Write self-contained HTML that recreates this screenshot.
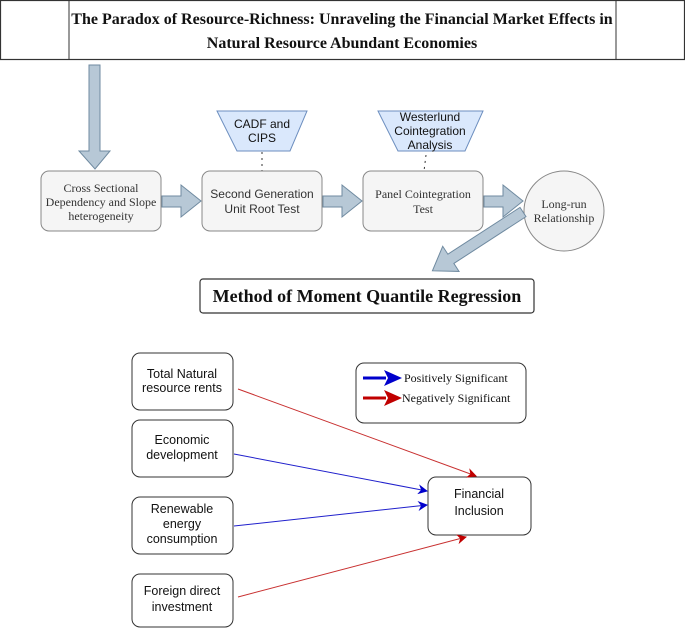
<!DOCTYPE html>
<html><head><meta charset="utf-8"><style>
html,body{margin:0;padding:0;background:#fff;}
svg{display:block;}
.serif{font-family:"Liberation Serif",serif;}
.sans{font-family:"Liberation Sans",sans-serif;}
</style></head><body>
<svg width="685" height="629" viewBox="0 0 685 629" xmlns="http://www.w3.org/2000/svg">
<defs>
<marker id="mr" markerWidth="10" markerHeight="10" refX="9" refY="5" orient="auto" markerUnits="userSpaceOnUse"><path d="M0,0 L10,5 L0,10 L3,5 Z" fill="#c00000"/></marker>
<marker id="mb" markerWidth="10" markerHeight="10" refX="9" refY="5" orient="auto" markerUnits="userSpaceOnUse"><path d="M0,0 L10,5 L0,10 L3,5 Z" fill="#0000cc"/></marker>
</defs>
<rect x="0.5" y="0.5" width="684" height="59" fill="#fff" stroke="#333" stroke-width="1.2"/>
<line x1="69" y1="0" x2="69" y2="60" stroke="#333"/>
<line x1="616" y1="0" x2="616" y2="60" stroke="#333"/>
<text class="serif" x="342" y="24" font-size="16" font-weight="bold" text-anchor="middle" fill="#111">The Paradox of Resource-Richness: Unraveling the Financial Market Effects in</text>
<text class="serif" x="342" y="48" font-size="16" font-weight="bold" text-anchor="middle" fill="#111">Natural Resource Abundant Economies</text>
<polygon points="89,65 100,65 100,151 110,151 95,169 79,151 89,151" fill="#b7c8d6" stroke="#6f8aa0" stroke-width="1"/>
<polygon points="217,111 307,111 290,151 237,151" fill="#dae8fc" stroke="#6c8ebf"/>
<text class="sans" x="262" y="128" font-size="12" text-anchor="middle" fill="#111">CADF and</text>
<text class="sans" x="262" y="142" font-size="12" text-anchor="middle" fill="#111">CIPS</text>
<line x1="262" y1="152" x2="262" y2="171" stroke="#333" stroke-dasharray="2,4"/>
<polygon points="378,111 483,111 465,151 398,151" fill="#dae8fc" stroke="#6c8ebf"/>
<text class="sans" x="430" y="121" font-size="12" text-anchor="middle" fill="#111">Westerlund</text>
<text class="sans" x="430" y="135" font-size="12" text-anchor="middle" fill="#111">Cointegration</text>
<text class="sans" x="430" y="149" font-size="12" text-anchor="middle" fill="#111">Analysis</text>
<line x1="426" y1="155" x2="424" y2="171" stroke="#333" stroke-dasharray="2,4"/>
<rect x="41" y="171" width="120" height="60" rx="8" fill="#f5f5f5" stroke="#888"/>
<text class="serif" x="101" y="192" font-size="12" text-anchor="middle" fill="#333">Cross Sectional</text>
<text class="serif" x="101" y="206" font-size="12" text-anchor="middle" fill="#333">Dependency and Slope</text>
<text class="serif" x="101" y="220" font-size="12" text-anchor="middle" fill="#333">heterogeneity</text>
<rect x="202" y="171" width="120" height="60" rx="8" fill="#f5f5f5" stroke="#888"/>
<text class="sans" x="262" y="198" font-size="12" text-anchor="middle" fill="#333">Second Generation</text>
<text class="sans" x="262" y="213" font-size="12" text-anchor="middle" fill="#333">Unit Root Test</text>
<rect x="363" y="171" width="120" height="60" rx="8" fill="#f5f5f5" stroke="#888"/>
<text class="serif" x="423" y="198" font-size="12" text-anchor="middle" fill="#333">Panel Cointegration</text>
<text class="serif" x="423" y="213" font-size="12" text-anchor="middle" fill="#333">Test</text>
<ellipse cx="564" cy="211" rx="40" ry="40" fill="#f5f5f5" stroke="#888"/>
<text class="serif" x="564" y="208" font-size="12" text-anchor="middle" fill="#333">Long-run</text>
<text class="serif" x="564" y="222" font-size="12" text-anchor="middle" fill="#333">Relationship</text>
<polygon points="162,196 181,196 181,185 201,201 181,217 181,207 162,207" fill="#b7c8d6" stroke="#6f8aa0"/>
<polygon points="323,196 342,196 342,185 362,201 342,217 342,207 323,207" fill="#b7c8d6" stroke="#6f8aa0"/>
<polygon points="484,196 503,196 503,185 523,201 503,217 503,207 484,207" fill="#b7c8d6" stroke="#6f8aa0"/>
<g transform="translate(523,212) rotate(147)">
<polygon points="0,-5.5 86,-5.5 86,-15 108,0 86,15 86,5.5 0,5.5" fill="#b7c8d6" stroke="#6f8aa0"/>
</g>
<rect x="200" y="279" width="334" height="34" rx="3" fill="#fff" stroke="#333" stroke-width="1.2"/>
<text class="serif" x="367" y="302" font-size="18" font-weight="bold" text-anchor="middle" fill="#111">Method of Moment Quantile Regression</text>
<g class="sans" font-size="12.5" fill="#111" text-anchor="middle">
<rect x="132" y="353" width="101" height="57" rx="8" fill="#fff" stroke="#333"/>
<text x="182" y="378">Total Natural</text>
<text x="182" y="392">resource rents</text>
<rect x="132" y="420" width="101" height="57" rx="8" fill="#fff" stroke="#333"/>
<text x="182" y="444">Economic</text>
<text x="182" y="459">development</text>
<rect x="132" y="497" width="101" height="57" rx="8" fill="#fff" stroke="#333"/>
<text x="182" y="513">Renewable</text>
<text x="182" y="528">energy</text>
<text x="182" y="543">consumption</text>
<rect x="132" y="574" width="101" height="53" rx="8" fill="#fff" stroke="#333"/>
<text x="182" y="595">Foreign direct</text>
<text x="182" y="611">investment</text>
<rect x="428" y="477" width="103" height="58" rx="8" fill="#fff" stroke="#333"/>
<text x="479" y="498">Financial</text>
<text x="479" y="515">Inclusion</text>
</g>
<line x1="238" y1="389" x2="476" y2="476" stroke="#c83030" stroke-width="1" marker-end="url(#mr)"/>
<line x1="234" y1="454" x2="427" y2="491" stroke="#2020cc" stroke-width="1" marker-end="url(#mb)"/>
<line x1="234" y1="526" x2="427" y2="505" stroke="#2020cc" stroke-width="1" marker-end="url(#mb)"/>
<line x1="238" y1="597" x2="466" y2="537" stroke="#c83030" stroke-width="1" marker-end="url(#mr)"/>
<rect x="356" y="363" width="170" height="60" rx="8" fill="#fff" stroke="#333"/>
<line x1="363" y1="378" x2="386" y2="378" stroke="#0000cc" stroke-width="3"/>
<polygon points="384,370 402,378 384,386 388,378" fill="#0000cc"/>
<line x1="363" y1="398" x2="386" y2="398" stroke="#c00000" stroke-width="3"/>
<polygon points="384,390 402,398 384,406 388,398" fill="#c00000"/>
<text class="serif" x="404" y="382" font-size="12" fill="#111">Positively Significant</text>
<text class="serif" x="402" y="402" font-size="12" fill="#111">Negatively Significant</text>
</svg>
</body></html>
